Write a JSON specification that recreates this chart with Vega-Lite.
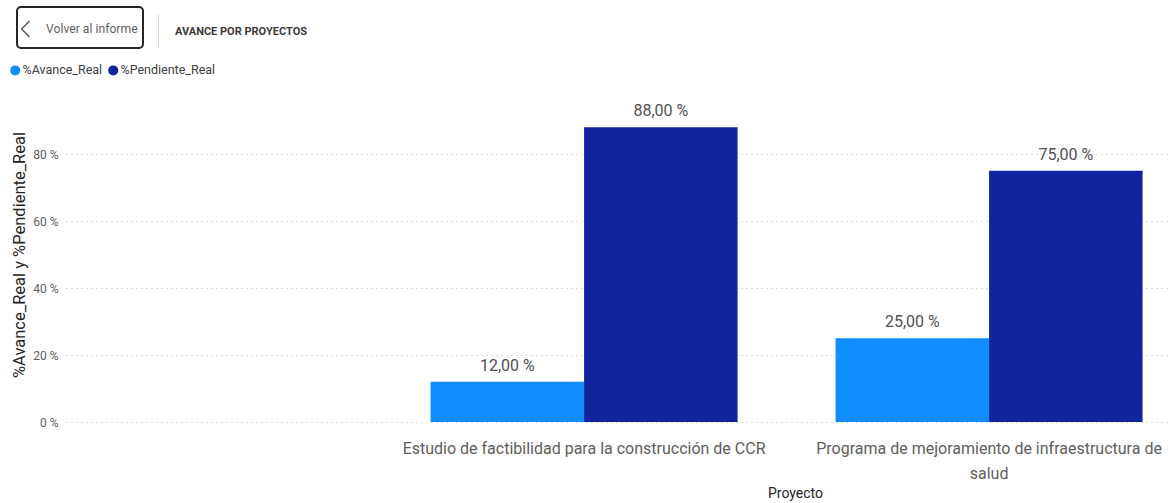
{
  "$schema": "https://vega.github.io/schema/vega-lite/v6.json",
  "width": 1104,
  "height": 335,
  "autosize": {"type": "none"},
  "padding": {"left": 66, "top": 87, "right": 5, "bottom": 81},
  "background": "white",
  "data": {
    "values": [
      {"Proyecto": "Estudio de factibilidad para la construcción de CCR", "Serie": "%Avance_Real", "Valor": 0.12},
      {"Proyecto": "Estudio de factibilidad para la construcción de CCR", "Serie": "%Pendiente_Real", "Valor": 0.88},
      {"Proyecto": "Programa de mejoramiento de infraestructura de salud", "Serie": "%Avance_Real", "Valor": 0.25},
      {"Proyecto": "Programa de mejoramiento de infraestructura de salud", "Serie": "%Pendiente_Real", "Valor": 0.75}
    ]
  },
  "encoding": {
    "x": {
      "field": "Proyecto",
      "type": "nominal",
      "scale": {
        "domain": ["Estudio de factibilidad para la construcción de CCR", "Programa de mejoramiento de infraestructura de salud"],
        "paddingInner": 0.242,
        "paddingOuter": 0.484,
        "align": 0.93
      },
      "axis": {
        "title": "Proyecto",
        "titleFontSize": 14,
        "titleFontWeight": "normal",
        "titleColor": "#252423",
        "titleX": 729,
        "titleY": 71,
        "titleBaseline": "middle",
        "labelAngle": 0,
        "labelFontSize": 16,
        "labelColor": "#605E5C",
        "labelPadding": 18,
        "labelLimit": 600,
        "labelLineHeight": 25,
        "labelExpr": "datum.value == 'Programa de mejoramiento de infraestructura de salud' ? ['Programa de mejoramiento de infraestructura de', 'salud'] : datum.label",
        "domain": false,
        "ticks": false,
        "grid": false
      }
    },
    "xOffset": {"field": "Serie", "type": "nominal", "scale": {"domain": ["%Avance_Real", "%Pendiente_Real"]}},
    "y": {
      "field": "Valor",
      "type": "quantitative",
      "scale": {"domain": [0, 1], "nice": false},
      "axis": {
        "title": "%Avance_Real y %Pendiente_Real",
        "titleFontSize": 16.5,
        "titleFontWeight": "normal",
        "titleColor": "#252423",
        "titlePadding": 5,
        "values": [0, 0.2, 0.4, 0.6, 0.8],
        "format": ".0%",
        "labelFontSize": 12,
        "labelColor": "#605E5C",
        "labelPadding": 8,
        "domain": false,
        "ticks": false,
        "grid": true,
        "gridColor": "#B8B6B4",
        "gridDash": [1, 4],
        "gridWidth": 1
      }
    }
  },
  "layer": [
    {
      "mark": {"type": "bar"},
      "encoding": {
        "color": {
          "field": "Serie",
          "type": "nominal",
          "scale": {"domain": ["%Avance_Real", "%Pendiente_Real"], "range": ["#118DFF", "#12239E"]},
          "legend": {
            "orient": "none",
            "legendX": -57,
            "legendY": -23,
            "direction": "horizontal",
            "title": null,
            "symbolType": "circle",
            "symbolSize": 100,
            "symbolStrokeWidth": 0,
            "labelFontSize": 12.5,
            "labelColor": "#404040",
            "labelOffset": 1,
            "columnPadding": 4,
            "padding": 0
          }
        },
        "strokeDash": {
          "datum": "Volver al informe",
          "legend": {
            "orient": "none",
            "legendX": -49,
            "legendY": -80,
            "title": null,
            "symbolType": "M 0 -0.68 M -0.59 -0.5 L -1.09 0 L -0.59 0.5 M 0 0.68",
            "symbolSize": 1024,
            "symbolStrokeColor": "#605E5C",
            "symbolStrokeWidth": 1.5,
            "symbolFillColor": "transparent",
            "symbolOpacity": 1,
            "labelFontSize": 12.2,
            "labelColor": "#605E5C",
            "labelOffset": -10,
            "padding": 5,
            "strokeColor": "#252423",
            "cornerRadius": 4
          }
        }
      }
    },
    {
      "mark": {"type": "text", "baseline": "alphabetic", "dy": -11, "fontSize": 16, "color": "#505050"},
      "encoding": {
        "text": {"field": "Valor", "type": "quantitative", "format": ".2%"}
      }
    },
    {
      "mark": {"type": "rule", "opacity": 0},
      "encoding": {
        "strokeDash": {
          "datum": "AVANCE POR PROYECTOS",
          "legend": {
            "orient": "none",
            "legendX": 75,
            "legendY": -73,
            "title": null,
            "symbolType": "M 0 -1 L 0 1",
            "symbolSize": 1156,
            "symbolStrokeColor": "#C8C6C4",
            "symbolStrokeWidth": 1,
            "symbolFillColor": "transparent",
            "symbolOpacity": 1,
            "labelFontSize": 11,
            "labelFontWeight": "bold",
            "labelColor": "#3B3A39",
            "labelOffset": -1,
            "padding": 0
          }
        }
      }
    }
  ],
  "resolve": {"scale": {"strokeDash": "independent"}, "legend": {"strokeDash": "independent"}},
  "config": {
    "font": "Roboto, sans-serif",
    "view": {"stroke": null},
    "legend": {"strokeWidth": 2},
    "locale": {
      "number": {"decimal": ",", "thousands": ".", "grouping": [3], "currency": ["", " €"], "percent": " %"}
    }
  }
}
